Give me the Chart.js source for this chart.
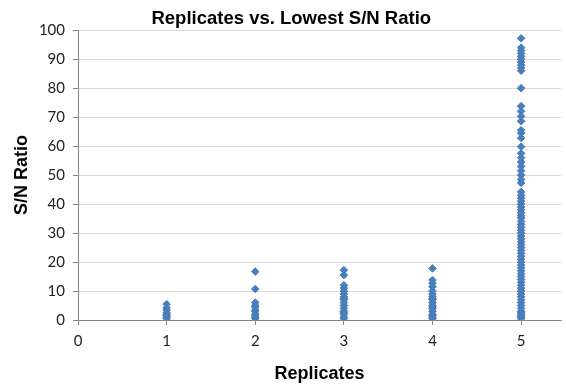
<!DOCTYPE html>
<html>
<head>
<meta charset="utf-8">
<script src="https://cdn.jsdelivr.net/npm/chart.js@4/dist/chart.umd.min.js"></script>
<style>
  html, body { margin: 0; padding: 0; background: #fff; }
  #wrap { width: 566px; height: 387px; }
</style>
</head>
<body>
<div id="wrap"><canvas id="chart"></canvas></div>
<script>
// values, one list per replicate count
const rep1 = [5.5, 4.2, 3.5, 2.5, 2, 1.5, 1, 0.5];
const rep2 = [16.7, 10.7, 6, 5, 4.5, 3.5, 3, 2, 1.5, 1, 0.5];
const rep3 = [17.2, 15.5, 12, 11, 10, 9, 8, 7.5, 7, 6, 5, 4, 3, 2.5, 2, 1, 0.5];
const rep4 = [17.8, 13.8, 12.7, 11.5, 10, 9, 8, 7.5, 7, 6, 5, 4.5, 4, 3, 2, 1.5, 1, 0.5];
const rep5 = [97.2, 94, 93, 92, 91, 90, 89, 88, 87, 86, 80, 73.8, 72, 70.3, 68.6,
  65.5, 64.5, 62.8, 59.8, 57.5, 56, 54.5, 53, 51.5, 50, 48.5, 47.3,
  44.2, 43, 42, 41, 40, 39, 38, 37, 36, 35.2, 34, 33, 32, 31, 30, 29, 28, 27,
  26, 25, 24, 23, 22, 21, 20, 19, 18, 17, 16, 15, 14, 13, 12, 11, 10, 9, 8,
  7, 6, 5, 4, 3, 2.5, 2, 1.5, 1, 0.5];
const replicates = [1, 2, 3, 4, 5];
const groups = [rep1, rep2, rep3, rep4, rep5];

const yTicks = [0, 10, 20, 30, 40, 50, 60, 70, 80, 90, 100];
const xTicks = [0, 1, 2, 3, 4, 5];

var points = [];
groups.forEach((vals, i) => {
  vals.forEach((v) => {
    points.push({ x: replicates[i], y: v });
  });
});

const blue = "#4A7EBB";
const tickFont = { family: "Lato, 'Open Sans', sans-serif", size: 15 };
const boldFont = "'Liberation Sans', Arial, sans-serif";

new Chart(document.getElementById("chart"), {
  type: "scatter",
  data: {
    datasets: [
      {
        label: "S/N Ratio",
        data: points,
        pointStyle: "rectRot",
        pointRadius: 3.8,
        backgroundColor: blue,
        borderColor: blue,
        borderWidth: 1,
      },
    ],
  },
  options: {
    responsive: true,
    maintainAspectRatio: false,
    animation: false,
    layout: { padding: { left: 0, right: 4, top: 0, bottom: 0 } },
    plugins: {
      legend: { display: false },
      tooltip: { enabled: false },
      title: {
        display: true,
        // leading spaces nudge the title right, like the original
        text: "    Replicates vs. Lowest S/N Ratio",
        color: "#000",
        font: { family: boldFont, size: 18.5, weight: "bold" },
        padding: { top: 8, bottom: 0 },
      },
    },
    scales: {
      x: {
        type: "linear",
        min: 0,
        max: 5.45,
        afterBuildTicks: (scale) => {
          scale.ticks = xTicks.map((v) => ({ value: v }));
        },
        afterFit: (scale) => {
          scale.height = 67;
        },
        grid: {
          display: true,
          drawOnChartArea: false,
          drawTicks: true,
          tickLength: 5,
          color: "#868686",
        },
        border: { display: true, color: "#868686", width: 1 },
        ticks: { color: "#222", font: tickFont, padding: 7 },
        title: {
          display: true,
          text: "Replicates",
          color: "#000",
          font: { family: boldFont, size: 18, weight: "bold" },
          padding: { top: 0, bottom: 2 },
        },
      },
      y: {
        min: 0,
        max: 100,
        afterBuildTicks: (scale) => {
          scale.ticks = yTicks.map((v) => ({ value: v }));
        },
        afterFit: (scale) => {
          scale.width = 78;
        },
        grid: {
          color: (ctx) => (ctx.tick && ctx.tick.value === 0 ? "#868686" : "#D9D9D9"),
          tickColor: "#868686",
          tickLength: 5,
        },
        border: { display: true, color: "#868686", width: 1 },
        ticks: { color: "#222", font: tickFont, padding: 8 },
        title: {
          display: true,
          text: "S/N Ratio",
          color: "#000",
          font: { family: boldFont, size: 18, weight: "bold" },
          padding: { top: 11, bottom: 0 },
        },
      },
    },
  },
});
</script>
</body>
</html>
